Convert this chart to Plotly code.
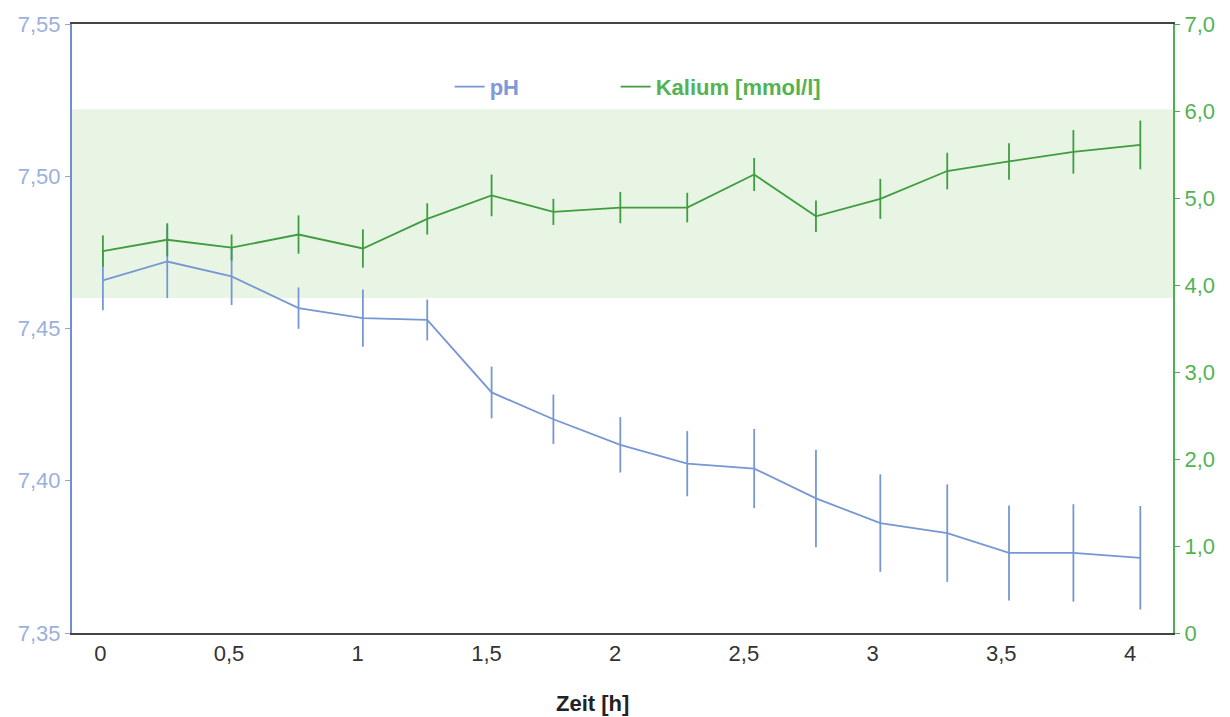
import plotly.graph_objects as go

# time points [h]
zeit = [0.01, 0.26, 0.51, 0.77, 1.02, 1.27, 1.52, 1.76, 2.02, 2.28, 2.54, 2.78, 3.03, 3.29, 3.53, 3.78, 4.04]

ph = [7.4658, 7.4720, 7.4671, 7.4567, 7.4534, 7.4528, 7.4290, 7.4202, 7.4118, 7.4056,
      7.4040, 7.3942, 7.3861, 7.3828, 7.3763, 7.3763, 7.3747]
ph_err = [0.0098, 0.0120, 0.0094, 0.0068, 0.0094, 0.0067, 0.0085, 0.0081, 0.0091, 0.0107,
          0.0130, 0.0160, 0.0160, 0.0160, 0.0156, 0.0160, 0.0170]

kalium = [4.39, 4.52, 4.43, 4.58, 4.42, 4.76, 5.03, 4.84, 4.89, 4.89,
          5.27, 4.79, 4.99, 5.31, 5.42, 5.53, 5.61]
kalium_err = [0.18, 0.19, 0.15, 0.22, 0.22, 0.18, 0.24, 0.15, 0.18, 0.17,
              0.19, 0.18, 0.23, 0.21, 0.21, 0.25, 0.28]

# normal range for potassium
band_low, band_high = 3.85, 6.02

x_ticks = [0, 0.5, 1, 1.5, 2, 2.5, 3, 3.5, 4]
x_ticktext = ["0", "0,5", "1", "1,5", "2", "2,5", "3", "3,5", "4"]
y_ticks = [7.35, 7.40, 7.45, 7.50, 7.55]
y_ticktext = ["7,35", "7,40", "7,45", "7,50", "7,55"]
y2_ticks = [0, 1, 2, 3, 4, 5, 6, 7]
y2_ticktext = ["0", "1,0", "2,0", "3,0", "4,0", "5,0", "6,0", "7,0"]

BLUE = "#7797d4"
BLUE_TXT = "#9bb0dc"
GREEN = "#3f9c3f"
GREEN_TXT = "#52b352"
FONT = "Liberation Sans, Arial, sans-serif"

fig = go.Figure()

fig.add_trace(go.Scatter(
    x=zeit, y=ph, name="<span style='color:#7e9ad6'><b>pH</b></span>" + "\u00a0" * 15,
    mode="lines",
    line=dict(color=BLUE, width=1.8),
    error_y=dict(type="data", array=ph_err, visible=True, color=BLUE, thickness=1.8, width=0),
    yaxis="y",
))
fig.add_trace(go.Scatter(
    x=zeit, y=kalium, name="<span style='color:%s'><b>Kalium [mmol/l]</b></span>" % GREEN_TXT,
    mode="lines",
    line=dict(color=GREEN, width=1.8),
    error_y=dict(type="data", array=kalium_err, visible=True, color=GREEN, thickness=1.8, width=0),
    yaxis="y2",
))

fig.add_shape(type="rect", xref="paper", x0=0, x1=1, yref="y2", y0=band_low, y1=band_high,
              fillcolor="#e8f5e4", line=dict(width=0), layer="below")

fig.update_layout(
    width=1230, height=717,
    margin=dict(l=72, r=57, t=19, b=84),
    paper_bgcolor="white", plot_bgcolor="white",
    separators=",.",
    font=dict(family=FONT, size=22),
    showlegend=True,
    legend=dict(
        orientation="h", x=0.343, xanchor="left", y=0.897, yanchor="middle",
        bgcolor="rgba(0,0,0,0)", font=dict(size=22, family=FONT),
    ),
    xaxis=dict(
        range=[-0.11, 4.167], tickvals=x_ticks, ticktext=x_ticktext,
        showgrid=False, zeroline=False, showline=True, linecolor="#444444", linewidth=2,
        mirror=True, ticks="", tickfont=dict(color="#333333", size=22),
    ),
    yaxis=dict(
        range=[7.35, 7.55], tickvals=y_ticks, ticktext=y_ticktext,
        showgrid=False, zeroline=False, showline=True, linecolor="#6f8fd2", linewidth=2,
        ticks="outside", ticklen=5, tickcolor="#8fa6d8", tickfont=dict(color=BLUE_TXT, size=22),
    ),
    yaxis2=dict(
        range=[0, 7], tickvals=y2_ticks, ticktext=y2_ticktext, overlaying="y", side="right",
        showgrid=False, zeroline=False, showline=True, linecolor="#4cb04c", linewidth=2,
        ticks="outside", ticklen=5, tickcolor="#4cb04c", tickfont=dict(color=GREEN_TXT, size=22),
    ),
    annotations=[dict(
        text="<b>Zeit [h]</b>", xref="paper", yref="paper", x=0.473, y=-0.1156,
        xanchor="center", yanchor="middle", showarrow=False,
        font=dict(size=22, color="#222222", family=FONT),
    )],
)

fig.write_html("out.html")
